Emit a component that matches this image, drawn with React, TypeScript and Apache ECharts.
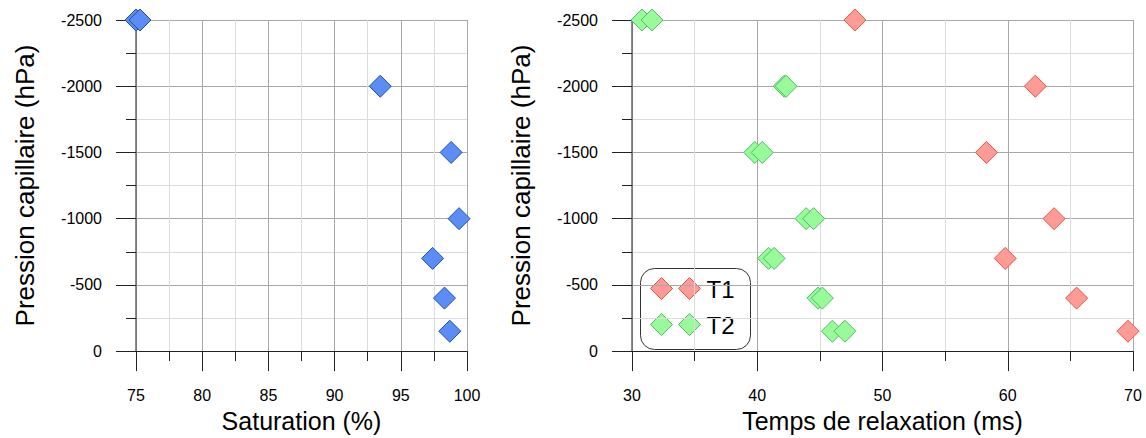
import React, { useEffect, useRef } from "react";
import * as echarts from "echarts";

// Left panel: saturation (%) vs capillary pressure (hPa)
const pressureSat = [-2500, -2500, -2000, -1500, -1000, -700, -400, -150];
const saturation = [75.0, 75.3, 93.45, 98.8, 99.4, 97.4, 98.3, 98.7];

// Right panel: relaxation times (ms) vs capillary pressure (hPa)
const pressureT = [-2500, -2000, -1500, -1000, -700, -400, -150];
const t1 = [47.8, 62.2, 58.3, 63.7, 59.8, 65.5, 69.6];
const t2a = [30.8, 42.15, 39.8, 43.9, 40.9, 44.85, 46.0];
const t2b = [31.6, 42.3, 40.4, 44.5, 41.35, 45.2, 47.0];

const legendNames = ["T1", "T2"];

const FONT = "'Liberation Sans', Arial, sans-serif";
const BLUE = { fill: "#5B8DF5", border: "#1E4DB8" };
const RED = { fill: "#FF9B96", border: "#E5583F" };
const GREEN = { fill: "#99FA99", border: "#4FBF68" };

function zip(xs: number[], ys: number[]) {
  return xs.map((x, i) => [x, ys[i]]);
}

const fmt = (v: number) => String(v);

function xAxisCfg(gridIndex: number, min: number, max: number, interval: number, name: string) {
  return {
    type: "value",
    gridIndex,
    min,
    max,
    interval,
    name,
    nameLocation: "middle",
    nameGap: 50,
    nameTextStyle: { fontFamily: FONT, fontSize: 25, color: "#000" },
    axisLine: { show: true, onZero: false, lineStyle: { color: "#222", width: 1 } },
    axisTick: { show: true, length: 20, lineStyle: { color: "#222" } },
    minorTick: { show: true, splitNumber: 2, length: 10, lineStyle: { color: "#222" } },
    axisLabel: { fontFamily: FONT, fontSize: 16, color: "#000", margin: 36, formatter: fmt },
    splitLine: { show: true, lineStyle: { color: "#a8a8a8", width: 1 } },
    minorSplitLine: { show: true, lineStyle: { color: "#dcdcdc", width: 1 } },
  };
}

function yAxisCfg(gridIndex: number) {
  return {
    type: "value",
    gridIndex,
    min: -2500,
    max: 0,
    interval: 500,
    inverse: true,
    name: "Pression capillaire (hPa)",
    nameLocation: "middle",
    nameGap: 98,
    nameTextStyle: { fontFamily: FONT, fontSize: 26, color: "#000" },
    axisLine: { show: true, onZero: false, lineStyle: { color: "#666", width: 1.5 } },
    axisTick: { show: true, length: 20, lineStyle: { color: "#222" } },
    minorTick: { show: true, splitNumber: 2, length: 10, lineStyle: { color: "#222" } },
    axisLabel: { fontFamily: FONT, fontSize: 16, color: "#000", margin: 34, formatter: fmt },
    splitLine: { show: true, lineStyle: { color: "#a8a8a8", width: 1 } },
    minorSplitLine: { show: true, lineStyle: { color: "#dcdcdc", width: 1 } },
  };
}

function diamond(cx: number, cy: number, r: number, c: { fill: string; border: string }) {
  return {
    type: "polygon",
    shape: { points: [[cx, cy - r], [cx + r, cy], [cx, cy + r], [cx - r, cy]] },
    style: { fill: c.fill, stroke: c.border, lineWidth: 1 },
  };
}

export default function App() {
  const ref = useRef<HTMLDivElement>(null);
  useEffect(() => {
    if (!ref.current) return;
    const chart = echarts.init(ref.current, undefined, { renderer: "svg" });
    const sym = (c: { fill: string; border: string }) => ({
      color: c.fill,
      borderColor: c.border,
      borderWidth: 1,
      opacity: 1,
    });
    chart.setOption({
      animation: false,
      backgroundColor: "#fff",
      grid: [
        { left: 136, right: 679, top: 20, bottom: 85 },
        { left: 632, right: 13, top: 20, bottom: 85 },
      ],
      xAxis: [
        xAxisCfg(0, 75, 100, 5, "Saturation (%)"),
        xAxisCfg(1, 30, 70, 10, "Temps de relaxation (ms)"),
      ],
      yAxis: [yAxisCfg(0), yAxisCfg(1)],
      series: [
        {
          type: "scatter",
          xAxisIndex: 0,
          yAxisIndex: 0,
          symbol: "diamond",
          symbolSize: 22,
          itemStyle: sym(BLUE),
          data: zip(saturation, pressureSat),
        },
        {
          name: "T2",
          type: "scatter",
          xAxisIndex: 1,
          yAxisIndex: 1,
          symbol: "diamond",
          symbolSize: 22,
          itemStyle: sym(GREEN),
          data: zip(t2a, pressureT),
        },
        {
          name: "T2",
          type: "scatter",
          xAxisIndex: 1,
          yAxisIndex: 1,
          symbol: "diamond",
          symbolSize: 22,
          itemStyle: sym(GREEN),
          data: zip(t2b, pressureT),
        },
        {
          name: "T1",
          type: "scatter",
          xAxisIndex: 1,
          yAxisIndex: 1,
          symbol: "diamond",
          symbolSize: 22,
          itemStyle: sym(RED),
          data: zip(t1, pressureT),
        },
      ],
      graphic: [
        {
          type: "group",
          left: 640,
          top: 268,
          children: [
            {
              type: "rect",
              shape: { x: 0, y: 0, width: 110, height: 81, r: 14 },
              style: { fill: "#fff", stroke: "#333", lineWidth: 1 },
            },
            diamond(21, 20, 11, RED),
            diamond(49, 20, 11, RED),
            {
              type: "text",
              x: 66,
              y: 21,
              style: {
                text: legendNames[0],
                fontFamily: FONT,
                fontSize: 24,
                fill: "#000",
                verticalAlign: "middle",
              },
            },
            diamond(21, 56, 11, GREEN),
            diamond(49, 56, 11, GREEN),
            {
              type: "text",
              x: 66,
              y: 57,
              style: {
                text: legendNames[1],
                fontFamily: FONT,
                fontSize: 24,
                fill: "#000",
                verticalAlign: "middle",
              },
            },
          ],
        },
      ],
    });
    return () => chart.dispose();
  }, []);
  return (
    <div
      ref={ref}
      style={{ position: "fixed", left: 0, top: 0, width: 1146, height: 438, background: "#fff" }}
    />
  );
}
